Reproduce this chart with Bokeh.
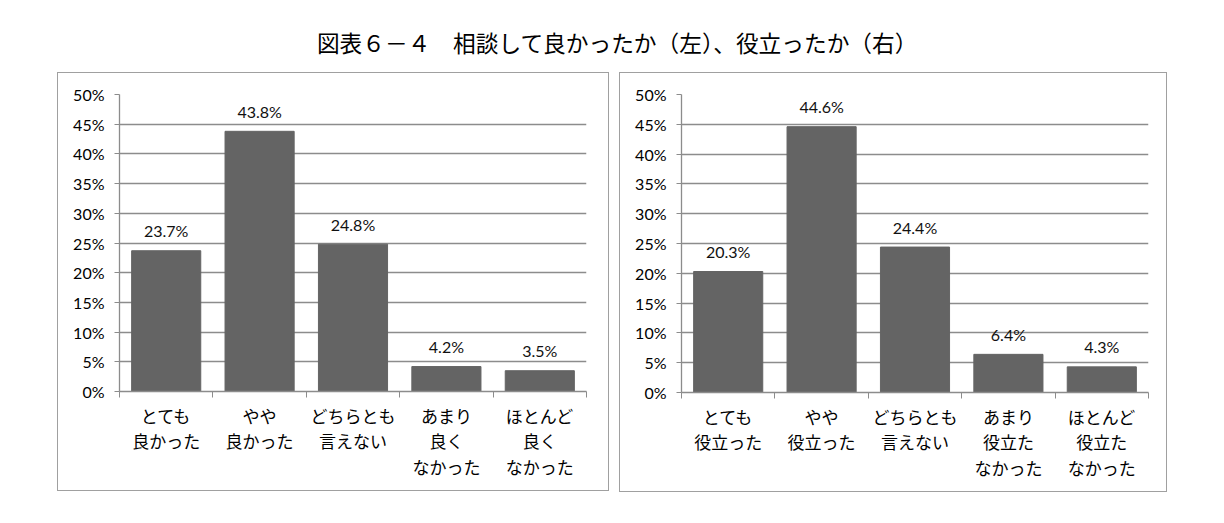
from bokeh.plotting import figure
from bokeh.models import FixedTicker, PrintfTickFormatter, Range1d, Label, Spacer
from bokeh.layouts import column, row
from bokeh.embed import file_html
from bokeh.resources import INLINE
from bokeh.core.properties import value

title_text = "図表６－４　相談して良かったか（左）、役立ったか（右）"

left_categories = ["とても\n良かった", "やや\n良かった", "どちらとも\n言えない",
                   "あまり\n良く\nなかった", "ほとんど\n良く\nなかった"]
left_values = [23.7, 43.8, 24.8, 4.2, 3.5]

right_categories = ["とても\n役立った", "やや\n役立った", "どちらとも\n言えない",
                    "あまり\n役立た\nなかった", "ほとんど\n役立た\nなかった"]
right_values = [20.3, 44.6, 24.4, 6.4, 4.3]

y_ticks = [0, 5, 10, 15, 20, 25, 30, 35, 40, 45, 50]

JP = "Noto Sans CJK JP"
NUM = "Lato"
BAR = "#646464"
GRID = "#8c8c8c"


def make_panel(cats, vals, width, height, top, bottom, left, right):
    p = figure(width=width, height=height, x_range=Range1d(0, len(cats)),
               y_range=Range1d(0, 50), toolbar_location=None, output_backend="svg",
               min_border_left=left, min_border_right=right,
               min_border_top=top, min_border_bottom=bottom)
    p.styles = {"border": "1.5px solid #a0a0a0", "box-sizing": "border-box"}
    p.outline_line_color = None
    xs = [i + 0.5 for i in range(len(cats))]
    p.vbar(x=xs, top=vals, width=0.74, fill_color=BAR, line_color=BAR)
    p.text(x=xs, y=vals, text=[f"{v:.1f}%" for v in vals],
           text_align="center", text_baseline="middle", y_offset=-20,
           text_font=value(NUM), text_font_size="16px", text_color="#111111")

    p.xgrid.visible = False
    p.ygrid.ticker = FixedTicker(ticks=y_ticks)
    p.ygrid.grid_line_color = GRID
    p.ygrid.grid_line_width = 1.3

    xa = p.xaxis[0]
    xa.ticker = FixedTicker(ticks=xs, minor_ticks=list(range(len(cats) + 1)))
    xa.major_label_overrides = {x: c for x, c in zip(xs, cats)}
    xa.major_tick_in = 0
    xa.major_tick_out = 0
    xa.minor_tick_in = 0
    xa.minor_tick_out = 6
    xa.minor_tick_line_color = GRID
    xa.axis_line_color = GRID
    xa.axis_line_width = 1.3
    xa.major_label_standoff = 5
    xa.major_label_text_font = JP
    xa.major_label_text_font_size = "17px"
    xa.major_label_text_color = "#000000"
    xa.major_label_text_line_height = 1.02

    ya = p.yaxis[0]
    ya.ticker = FixedTicker(ticks=y_ticks)
    ya.formatter = PrintfTickFormatter(format="%d%%")
    ya.major_tick_in = 0
    ya.major_tick_out = 5
    ya.major_tick_line_color = GRID
    ya.minor_tick_line_color = None
    ya.axis_line_color = GRID
    ya.axis_line_width = 1.3
    ya.major_label_standoff = 10
    ya.major_label_text_font = NUM
    ya.major_label_text_font_size = "16px"
    ya.major_label_text_color = "#000000"
    return p


p1 = make_panel(left_categories, left_values, 552, 419, 15, 101, 61, 24)
p2 = make_panel(right_categories, right_values, 548, 420, 21, 98, 61, 20)

pt = figure(width=1216, height=72, x_range=Range1d(0, 1), y_range=Range1d(0, 1),
            toolbar_location=None, output_backend="svg",
            min_border_left=0, min_border_right=0, min_border_top=0, min_border_bottom=0)
pt.axis.visible = False
pt.grid.visible = False
pt.outline_line_color = None
pt.add_layout(Label(x=617, y=30, x_units="screen", y_units="screen", text=title_text,
                    text_align="center", text_baseline="middle", text_font=JP,
                    text_font_size="22.7px", text_color="#000000"))

layout = column(pt, row(Spacer(width=57), p1, Spacer(width=10), p2))

open("out.html", "w").write(file_html(layout, INLINE))
